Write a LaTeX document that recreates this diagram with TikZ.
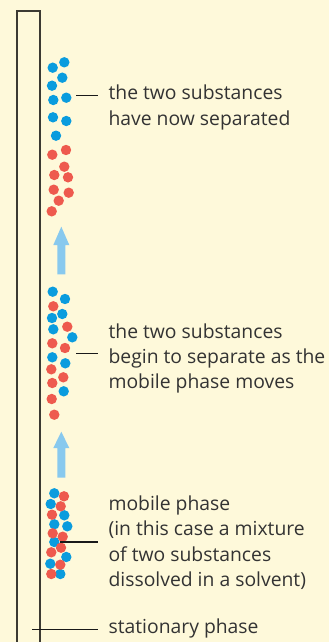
\documentclass[tikz,border=0pt]{standalone}
\usepackage{fontspec}
\setmainfont{Open Sans}
\definecolor{bg}{HTML}{FEF9DA}
\definecolor{dotblue}{HTML}{0A9CDE}
\definecolor{dotred}{HTML}{EE5A4E}
\definecolor{arrowblue}{HTML}{88C9EE}
\definecolor{txt}{HTML}{333333}
\definecolor{tube}{HTML}{3C3A33}
\tikzset{
  bdot/.style={fill=dotblue},
  rdot/.style={fill=dotred},
  leader/.style={draw=black!90, line width=1.05pt},
  lbl/.style={anchor=base west, inner sep=0pt, text=txt, font=\fontsize{14.5pt}{19pt}\selectfont},
  blockarrow/.style={fill=arrowblue},
}
\begin{document}
\begin{tikzpicture}[x=0.75pt,y=-0.75pt]
\fill[bg] (0,0) rectangle (329,642);
\useasboundingbox (0,0) rectangle (329,642);
% tube (stationary phase)
\draw[tube, line width=1pt] (17,642) -- (17,11) -- (40,11) -- (40,642);
% top group
\foreach \x/\y in {52.7/67.7,64.3/62.3,62.3/77.7,52/85.7,53.3/100,66.3/97.7,53/117.3,66.3/121,56/135.7}
  \fill[bdot] (\x,\y) circle (5.2);
\foreach \x/\y in {66/150,52.3/154.7,64.3/166.7,54.3/175,68/177.3,53.7/189.7,68.7/192.7,58.7/200.7,51.7/211.3}
  \fill[rdot] (\x,\y) circle (5.2);
% arrow 1
\fill[blockarrow] (57.3,274.3) -- (57.3,245) -- (53.3,245) -- (61.3,226.7) -- (69.3,245) -- (65.3,245) -- (65.3,274.3) -- cycle;
% middle group
\foreach \x/\y in {52.7/291.7,65/299,52/318,62.3/314,53.3/329.3,72.3/337.3,52.3/357.3,65.3/363.3,63.7/391.3}
  \fill[bdot] (\x,\y) circle (5.2);
\foreach \x/\y in {53.3/306.3,67.3/326.7,52.3/343.3,65/348,51.3/369.3,63.3/377.3,52.3/383,51.7/399,54.3/414.7}
  \fill[rdot] (\x,\y) circle (5.2);
% arrow 2
\fill[blockarrow] (57.3,477.7) -- (57.3,448) -- (53.3,448) -- (61.3,431.7) -- (69.3,448) -- (65.3,448) -- (65.3,477.7) -- cycle;
% bottom group
\foreach \x/\y in {54.3/493.3,50.7/504,64.3/515.3,54.3/524.3,67.3/526.3,54.3/542,66.3/557,50.3/563.7,60.3/574}
  \fill[bdot] (\x,\y) circle (5.2);
\foreach \x/\y in {64/496.3,60.7/506.3,52/514.7,52.7/533.3,62.7/536.7,61/547.7,51.3/552.3,60.3/564.7,51.3/574}
  \fill[rdot] (\x,\y) circle (5.2);
% leader lines
\coordinate (a1) at (76,95.7);  \coordinate (a2) at (98.3,95.7);
\coordinate (b1) at (76,353.3); \coordinate (b2) at (98.3,353.3);
\coordinate (c1) at (60,542);   \coordinate (c2) at (98.3,542);
\coordinate (d1) at (32,629.3); \coordinate (d2) at (98.3,629.3);
\draw[leader] (a1) -- (a2);
\draw[leader] (b1) -- (b2);
\draw[leader] (c1) -- (c2);
\draw[leader] (d1) -- (d2);
% labels
\node[lbl] (t1a) at (108.3,99) {the two substances};
\node[lbl] (t1b) at (108.3,125) {have now separated};
\node[lbl] (t2a) at (108.3,338) {the two substances};
\node[lbl] (t2b) at (108.3,363) {begin to separate as the};
\node[lbl] (t2c) at (108.3,388) {mobile phase moves};
\node[lbl] (t3a) at (108.3,510) {mobile phase};
\node[lbl] (t3b) at (108.3,535.5) {(in this case a mixture};
\node[lbl] (t3c) at (108.3,561) {of two substances};
\node[lbl] (t3d) at (108.3,586.5) {dissolved in a solvent)};
\node[lbl] (t4) at (108.3,633) {stationary phase};
\end{tikzpicture}
\end{document}
